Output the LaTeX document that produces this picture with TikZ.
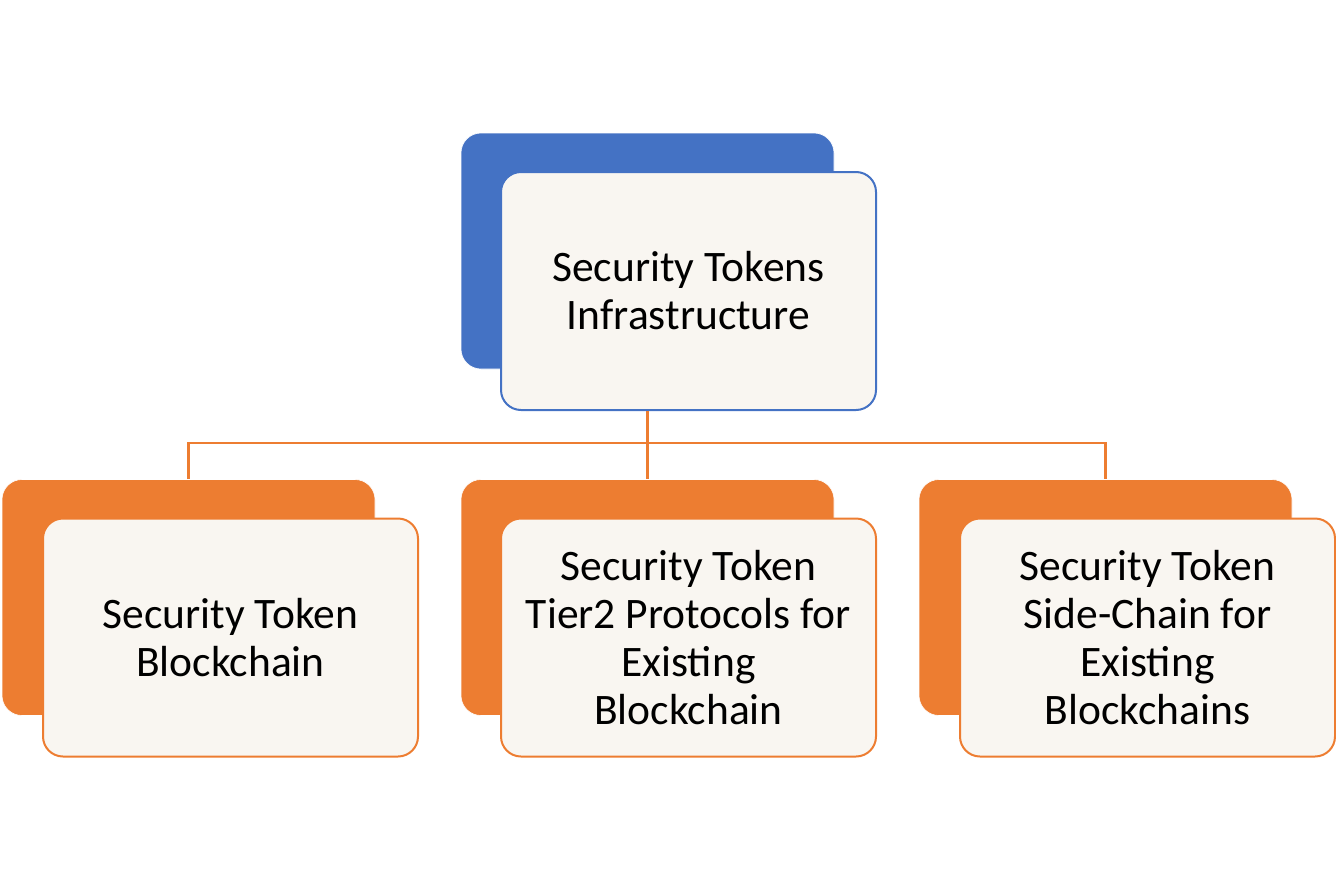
\documentclass[tikz,border=0pt]{standalone}
\usepackage{fontspec}
\setmainfont{Carlito}
\definecolor{cblue}{HTML}{4472C4}
\definecolor{corange}{HTML}{ED7D31}
\definecolor{ccream}{HTML}{F9F6F1}
\begin{document}
\begin{tikzpicture}[x=1pt,y=-1pt,
  backbox/.style={draw=white,line width=0.6pt,rounded corners=20pt,minimum width=373pt,minimum height=236pt,inner sep=0pt},
  frontbox/.style={fill=ccream,line width=2pt,rounded corners=20pt,minimum width=375pt,minimum height=238pt,inner sep=0pt,
    align=center,font=\fontsize{43.5}{48}\selectfont},
  conn/.style={draw=corange,line width=2.4pt}]
\useasboundingbox (0,0) rectangle (1336,889);
% top
\node[backbox,fill=cblue] (topback) at (647.5,251) {};
\node[frontbox,draw=cblue] (topfront) at (688.5,291) {Security Tokens\\Infrastructure};
% bottom row
\node[backbox,fill=corange] (leftback) at (188.5,597.5) {};
\node[frontbox,draw=corange] (leftfront) at (230.5,637.5) {Security Token\\Blockchain};
\node[backbox,fill=corange] (midback) at (647.5,597.5) {};
\node[frontbox,draw=corange] (midfront) at (688.5,637.5) {Security Token\\Tier2 Protocols for\\Existing\\Blockchain};
\node[backbox,fill=corange] (rightback) at (1105.5,597.5) {};
\node[frontbox,draw=corange] (rightfront) at (1147.5,637.5) {Security Token\\Side-Chain for\\Existing\\Blockchains};
% connectors
\coordinate (bus) at (647.5,443);
\draw[conn] (topfront.south -| midback.north) -- (midback.north);
\draw[conn] (leftback.north) |- (bus) -| (rightback.north);
\end{tikzpicture}
\end{document}
